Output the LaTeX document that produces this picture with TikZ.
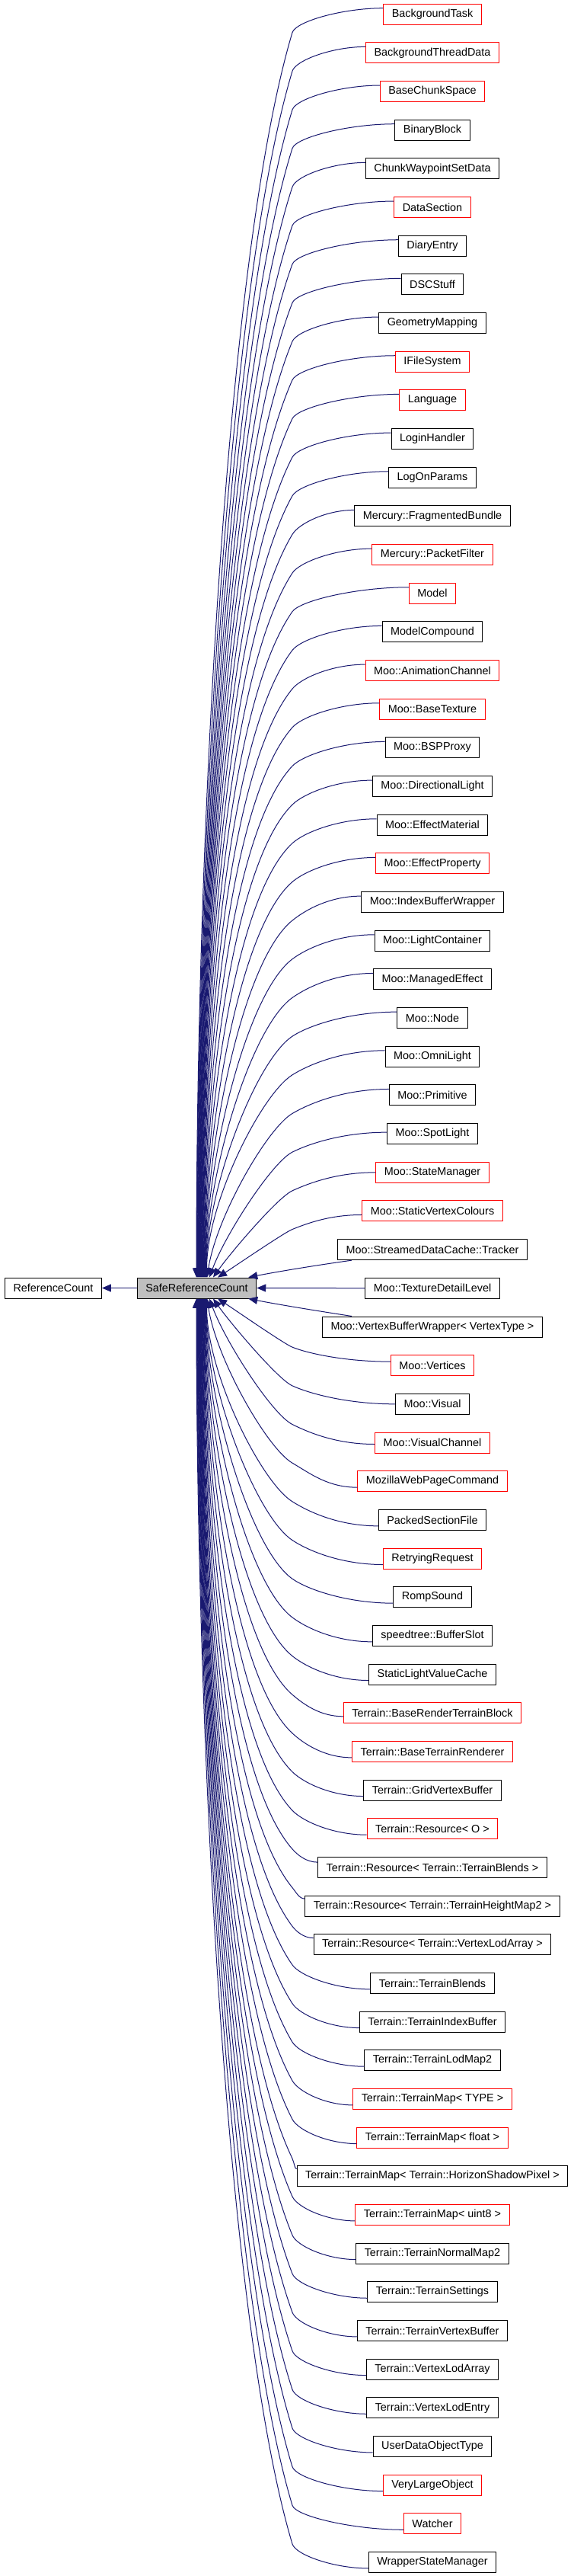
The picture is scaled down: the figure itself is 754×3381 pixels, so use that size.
\documentclass[tikz,border=0pt]{standalone}
\usepackage{fontspec}
\setmainfont{Liberation Sans}
\usetikzlibrary{arrows.meta,calc}
\definecolor{edgeblue}{HTML}{191970}
\definecolor{boxgrey}{HTML}{BFBFBF}
\definecolor{boxred}{HTML}{FF0000}
\tikzset{
  cls/.style={draw=black, line width=1pt, minimum height=27pt, inner xsep=11pt,
    inner ysep=0pt, fill=white, text=black, anchor=center,
    font=\fontsize{14.4pt}{16pt}\selectfont},
  bcls/.style={cls},
  rcls/.style={cls, draw=boxred},
  curcls/.style={cls, fill=boxgrey},
  edge/.style={draw=edgeblue, line width=1pt, -{Triangle[length=12pt,width=10pt]}}
}
\begin{document}
\begin{tikzpicture}[x=1pt,y=-1pt]
\fill[white] (0,0) rectangle (754,3381);
\useasboundingbox (0,0) rectangle (754,3381);

\node[curcls] (src) at (258.5,1690.5) {SafeReferenceCount};
\node[bcls] (ref) at (70,1690.5) {ReferenceCount};

\foreach \lab/\sty [count=\k from 0] in {
BackgroundTask/rcls,
BackgroundThreadData/rcls,
BaseChunkSpace/rcls,
BinaryBlock/bcls,
ChunkWaypointSetData/bcls,
DataSection/rcls,
DiaryEntry/bcls,
DSCStuff/bcls,
GeometryMapping/bcls,
IFileSystem/rcls,
Language/rcls,
LoginHandler/bcls,
LogOnParams/bcls,
Mercury::FragmentedBundle/bcls,
Mercury::PacketFilter/rcls,
Model/rcls,
ModelCompound/bcls,
Moo::AnimationChannel/rcls,
Moo::BaseTexture/rcls,
Moo::BSPProxy/bcls,
Moo::DirectionalLight/bcls,
Moo::EffectMaterial/bcls,
Moo::EffectProperty/rcls,
Moo::IndexBufferWrapper/bcls,
Moo::LightContainer/bcls,
Moo::ManagedEffect/bcls,
Moo::Node/bcls,
Moo::OmniLight/bcls,
Moo::Primitive/bcls,
Moo::SpotLight/bcls,
Moo::StateManager/rcls,
Moo::StaticVertexColours/rcls,
Moo::StreamedDataCache::Tracker/bcls,
Moo::TextureDetailLevel/bcls,
Moo::VertexBufferWrapper< VertexType >/bcls,
Moo::Vertices/rcls,
Moo::Visual/bcls,
Moo::VisualChannel/rcls,
MozillaWebPageCommand/rcls,
PackedSectionFile/bcls,
RetryingRequest/rcls,
RompSound/bcls,
speedtree::BufferSlot/bcls,
StaticLightValueCache/bcls,
Terrain::BaseRenderTerrainBlock/rcls,
Terrain::BaseTerrainRenderer/rcls,
Terrain::GridVertexBuffer/bcls,
Terrain::Resource< O >/rcls,
Terrain::Resource< Terrain::TerrainBlends >/bcls,
Terrain::Resource< Terrain::TerrainHeightMap2 >/bcls,
Terrain::Resource< Terrain::VertexLodArray >/bcls,
Terrain::TerrainBlends/bcls,
Terrain::TerrainIndexBuffer/bcls,
Terrain::TerrainLodMap2/bcls,
Terrain::TerrainMap< TYPE >/rcls,
Terrain::TerrainMap< float >/rcls,
Terrain::TerrainMap< Terrain::HorizonShadowPixel >/bcls,
Terrain::TerrainMap< uint8 >/rcls,
Terrain::TerrainNormalMap2/bcls,
Terrain::TerrainSettings/bcls,
Terrain::TerrainVertexBuffer/bcls,
Terrain::VertexLodArray/bcls,
Terrain::VertexLodEntry/bcls,
UserDataObjectType/bcls,
VeryLargeObject/rcls,
Watcher/rcls,
WrapperStateManager/bcls}
{
  \node[\sty] (n\k) at (568,{18.7+50.67*\k}) {\lab};
}

% inheritance to ReferenceCount
\draw[edge] (src.west) -- (ref.east);
% middle child
\draw[edge] (n33.west) -- (src.east);
% nearest children
\draw[edge] (462,0 |- n32.south) .. controls (420,1660) and (370,1668) .. ($(src.north east)+(-11pt,0pt)$);
\draw[edge] (462,0 |- n34.north) .. controls (420,1721) and (370,1713) .. ($(src.south east)+(-11pt,0pt)$);

\foreach \i in {0,...,31,35,36,...,66}{
  \pgfmathtruncatemacro{\qD}{abs(\i-33)}
  \pgfmathsetmacro{\qS}{\i<33 ? 1 : -1}
  \pgfmathsetmacro{\qcy}{18.7+50.67*\i}
  \path (n\i.west); \pgfgetlastxy{\qwx}{\qwy}
  \pgfmathsetmacro{\qsx}{\qwx}
  \pgfmathsetmacro{\qoff}{\qD>4 ? max(-9.5,min(8,4+0.338*(\qsx-449))) : (\qD==4 ? 2 : (\qD==3 ? 0 : -5))}
  \pgfmathsetmacro{\qso}{\qS*\qoff}
  \pgfmathsetmacro{\qsy}{\qcy-\qS*\qoff}
  \pgfmathsetmacro{\qpx}{min(384,\qsx-6)}
  \pgfmathsetmacro{\qpy}{\qcy+\qS*24}
  \pgfmathsetmacro{\qm}{\qD>4 ? 0.3+1.4*((33-\qD)/28)^2 : (\qD==4 ? 2.0 : (\qD==3 ? 2.2 : 2.5))}
  \pgfmathsetmacro{\qax}{\qsx-0.45*(\qsx-\qpx)}
  \pgfmathsetmacro{\qh}{0.45*abs(\qpy-\qsy)}
  \pgfmathsetmacro{\qbx}{\qpx+\qm*\qh}
  \pgfmathsetmacro{\qby}{\qpy-\qS*\qh}
  \pgfmathsetmacro{\qty}{1690.5-\qS*13.5}
  \pgfmathsetmacro{\qL}{abs(\qty-\qpy)}
  \pgfmathsetmacro{\qnm}{sqrt(1+\qm*\qm)}
  \pgfmathsetmacro{\qcx}{\qpx-0.18*\qL*\qm/\qnm}
  \pgfmathsetmacro{\qcyy}{\qpy+\qS*0.18*\qL/\qnm}
  \pgfmathsetmacro{\qe}{\qD>5 ? 0 : (\qD==5 ? 0.15 : (\qD==4 ? 0.37 : (\qD==3 ? 0.7 : 1.5)))}
  \pgfmathsetmacro{\qne}{sqrt(1+\qe*\qe)}
  \pgfmathsetmacro{\qtx}{\qD>4 ? 258+14*(33-\qD)/28 : (\qD==4 ? 275 : (\qD==3 ? 280 : 286))}
  \pgfmathsetmacro{\qdx}{\qtx+0.37*\qL*\qe/\qne}
  \pgfmathsetmacro{\qdy}{\qty-\qS*0.37*\qL/\qne}
  \pgfmathsetmacro{\qtdx}{\qtx-258.5}
  \ifnum\i<33
    \draw[edge] ($(n\i.west)+(0pt,\qso pt)$) .. controls (\qax,\qsy) and (\qbx,\qby) .. (\qpx,\qpy)
      .. controls (\qcx,\qcyy) and (\qdx,\qdy) .. ($(src.north)+(\qtdx pt,0pt)$);
  \else
    \draw[edge] ($(n\i.west)+(0pt,\qso pt)$) .. controls (\qax,\qsy) and (\qbx,\qby) .. (\qpx,\qpy)
      .. controls (\qcx,\qcyy) and (\qdx,\qdy) .. ($(src.south)+(\qtdx pt,0pt)$);
  \fi
}
\end{tikzpicture}
\end{document}
